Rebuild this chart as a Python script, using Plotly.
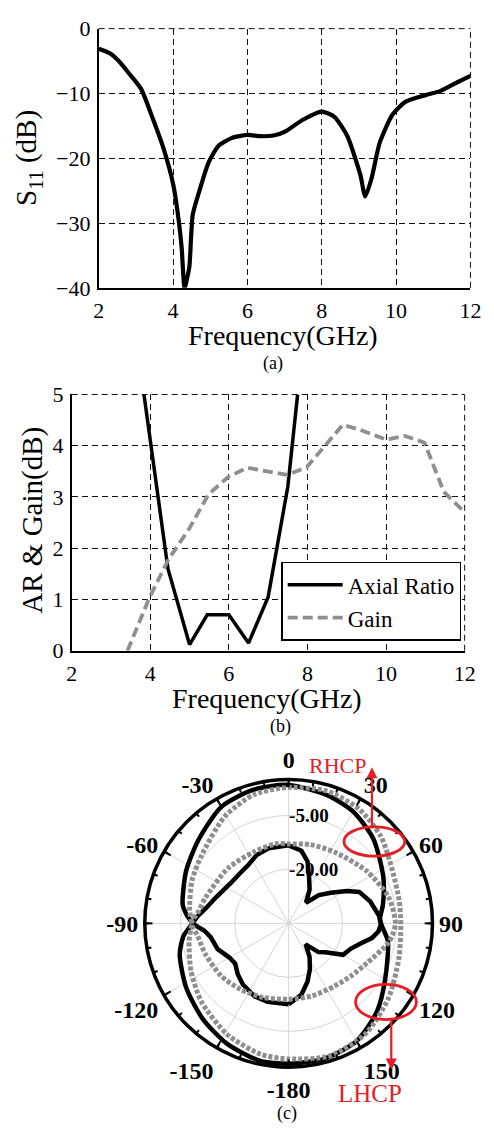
import plotly.graph_objects as go

# ---------------- (a) S11 ----------------
s11_freq = [2.0, 2.3, 2.54, 2.8, 3.14, 3.45, 3.75, 4.01, 4.15, 4.23, 4.31, 4.38, 4.44, 4.53, 4.70, 4.96,
            5.22, 5.57, 6.0, 6.35, 6.7, 7.04, 7.48, 8.0, 8.34, 8.69, 9.04, 9.17, 9.34, 9.56, 9.9,
            10.25, 10.77, 11.2, 11.64, 12.0]
s11_db = [-3.1, -3.8, -5.0, -6.8, -9.3, -13.8, -18.6, -24.2, -29.5, -33.7, -40.0, -38.5, -36.7, -28.7, -25.2, -20.6,
          -18.1, -16.9, -16.4, -16.6, -16.5, -15.8, -14.1, -12.8, -13.6, -16.6, -22.6, -25.9, -23.1, -17.6, -13.3,
          -11.3, -10.3, -9.6, -8.3, -7.3]

# ---------------- (b) AR & Gain ----------------
ar_freq = [3.84, 4.45, 5.0, 5.45, 6.0, 6.5, 7.0, 7.5, 7.75]
ar_db = [5.0, 1.6, 0.12, 0.7, 0.7, 0.15, 1.05, 3.2, 5.0]

gain_freq = [3.42, 3.97, 4.46, 4.99, 5.48, 5.98, 6.47, 7.0, 7.49, 7.98, 8.48, 8.9, 9.34, 10.0, 10.48, 10.98, 11.47, 12.0]
gain_db = [0.0, 1.02, 1.78, 2.38, 3.05, 3.39, 3.57, 3.49, 3.43, 3.58, 4.03, 4.41, 4.31, 4.12, 4.19, 4.06, 3.1, 2.7]

# ---------------- (c) radiation patterns (dB) ----------------
black_outer_theta = [-180, -168, -153, -138, -122, -106, -97, -90, -85, -80, -63, -47, -30, -15, 0, 17, 30, 45,
                     64, 79, 88, 100, 120, 135, 150, 165, 180]
black_outer_db = [4.0, 4.0, 2.6, 0.7, -1.4, -3.5, -5.5, -8.0, -6.5, -5.1, -3.0, -0.8, 2.4, 3.4, 3.5, 2.2, 0.9, -1.7,
                  -5.7, -8.3, -9.6, -7.0, -4.0, -0.3, 2.8, 3.9, 4.0]

black_inner_theta = [-180, -165, -155, -143, -135, -127, -120, -110, -100, -95, -90, -85, -80, -70, -55, -45, -35,
                     -25, -15, 0, 10, 17, 24, 32, 40, 47, 54, 61, 66, 75, 85, 90, 95, 100, 105, 112, 120, 128,
                     134, 141, 148, 155, 162, 170, 180]
black_inner_db = [-12.5, -12.4, -12.6, -13.8, -15.0, -16.4, -16.0, -14.0, -13.0, -11.5, -8.2, -9.8, -11.5, -13.6,
                  -15.4, -15.6, -15.3, -14.0, -13.4, -13.3, -14.5, -17.0, -21.0, -24.0, -27.5, -23.5, -20.5,
                  -16.5, -13.5, -11.5, -9.8, -9.3, -9.9, -11.5, -14.0, -16.3, -17.5, -22.0, -23.5, -27.5, -24.0,
                  -21.0, -18.0, -14.8, -12.5]

gray_outer_theta = [-180, -168, -151, -132, -116, -100, -90, -82, -66, -52, -31, -15, 0, 16, 32, 47, 62, 78, 91,
                    108, 127, 145, 163, 180]
gray_outer_db = [2.7, 2.2, 0.3, -2.4, -4.8, -6.9, -8.0, -7.2, -5.6, -4.3, -0.4, 2.1, 2.8, 3.3, 2.3, 0.2, -2.5,
                 -3.6, -3.8, -2.8, -0.3, 2.4, 3.6, 2.7]

gray_inner_theta = [-180, -161, -144, -128, -110, -98, -90, -82, -73, -48, -26, -9, 0, 15, 33, 56, 75, 90, 100,
                    117, 130, 144, 162, 180]
gray_inner_db = [-13.9, -13.2, -12.3, -11.2, -10.3, -9.5, -8.0, -9.8, -10.8, -12.2, -12.9, -12.6, -12.9, -12.3,
                 -11.4, -8.9, -6.3, -5.3, -6.5, -10.6, -12.3, -13.4, -13.8, -13.9]

ang_tickvals = [0, 30, 60, 90, 120, 150, 180, 210, 240, 270, 300, 330]
ang_ticktext = ['0', '30', '60', '90', '120', '150', '-180', '-150', '-120', '-90', '-60', '-30']

W, H = 494, 1146
SERIF = "Liberation Serif, Times New Roman, serif"
BLACK = "#000000"
GRAY = "#8f8f8f"
RED = "#e41e26"
GRID = "#111111"


def px(x):
    return x / W


def py(y):
    return 1 - y / H


fig = go.Figure()

fig.add_trace(go.Scatter(x=s11_freq, y=s11_db, mode="lines", line=dict(color=BLACK, width=4.2, shape="spline",
                                                                        smoothing=0.6),
                         xaxis="x", yaxis="y", showlegend=False))

fig.add_trace(go.Scatter(x=ar_freq, y=ar_db, mode="lines", name="Axial Ratio",
                         line=dict(color=BLACK, width=3.5), xaxis="x2", yaxis="y2"))
fig.add_trace(go.Scatter(x=gain_freq, y=gain_db, mode="lines", name="Gain",
                         line=dict(color=GRAY, width=3.8, dash="10px,5px"), xaxis="x2", yaxis="y2"))

fig.add_trace(go.Scatterpolar(r=black_outer_db, theta=black_outer_theta, mode="lines",
                              line=dict(color=BLACK, width=4.5, shape="spline", smoothing=0.7),
                              subplot="polar", showlegend=False))
fig.add_trace(go.Scatterpolar(r=black_inner_db, theta=black_inner_theta, mode="lines",
                              line=dict(color=BLACK, width=4.5),
                              subplot="polar", showlegend=False))
fig.add_trace(go.Scatterpolar(r=gray_outer_db, theta=gray_outer_theta, mode="lines",
                              line=dict(color=GRAY, width=5, dash="4px,2px", shape="spline", smoothing=0.7),
                              subplot="polar", showlegend=False))
fig.add_trace(go.Scatterpolar(r=gray_inner_db, theta=gray_inner_theta, mode="lines",
                              line=dict(color=GRAY, width=5, dash="4px,2px", shape="spline", smoothing=0.7),
                              subplot="polar", showlegend=False))
fig.add_trace(go.Scatterpolar(r=[], theta=[], subplot="polar2", showlegend=False))

tickfont = dict(family=SERIF, size=22, color=BLACK)
grid_common = dict(showgrid=True, gridcolor=GRID, gridwidth=1, griddash="6px,4px", zeroline=False,
                   showline=True, linecolor=BLACK, linewidth=1.6, mirror=False, ticks="", tickfont=tickfont,
                   ticklabelstandoff=2)

polar_domain = dict(x=[px(143.7), px(441.7)], y=[py(1080.7), py(782.7)])

fig.update_layout(
    width=W, height=H,
    margin=dict(l=0, r=0, t=0, b=0),
    paper_bgcolor="white", plot_bgcolor="white",
    font=dict(family=SERIF, color=BLACK),
    xaxis=dict(domain=[px(96), px(481)], range=[2, 12], dtick=2, anchor="y", **grid_common),
    yaxis=dict(domain=[py(282), py(17)], range=[-40, 0], dtick=10, anchor="x", **grid_common),
    xaxis2=dict(domain=[px(68), px(475)], range=[2, 12], dtick=2, anchor="y2", **grid_common),
    yaxis2=dict(domain=[py(653), py(391)], range=[0, 5], dtick=1, anchor="x2", **grid_common),
    legend=dict(x=px(285), y=py(562), xanchor="left", yanchor="top", bgcolor="white",
                bordercolor=BLACK, borderwidth=1.5, font=dict(family=SERIF, size=23, color=BLACK),
                itemwidth=55, tracegroupgap=0),
    polar=dict(
        domain=polar_domain, bgcolor="white",
        angularaxis=dict(rotation=90, direction="clockwise", tickvals=ang_tickvals, ticktext=ang_ticktext,
                         showline=True, linecolor=BLACK, linewidth=3.5, ticks="inside", ticklen=6,
                         tickwidth=2, tickcolor=BLACK, showgrid=True, gridcolor="#d6d6d6", gridwidth=1,
                         tickfont=dict(family=SERIF, size=24, color=BLACK, weight="bold")),
        radialaxis=dict(range=[-35, 5], tickvals=[-20, -5], ticktext=["-20.00", "-5.00"], angle=90,
                        tickangle=90, showline=False, ticks="", showgrid=True, gridcolor="#d6d6d6",
                        gridwidth=1, tickfont=dict(family=SERIF, size=19, color=BLACK, weight="bold")),
    ),
    polar2=dict(
        domain=polar_domain, bgcolor="rgba(0,0,0,0)",
        angularaxis=dict(rotation=90, direction="clockwise", tickvals=list(range(0, 360, 10)),
                         showticklabels=False, showline=False, ticks="inside", ticklen=4, tickwidth=1.5,
                         tickcolor=BLACK, showgrid=False),
        radialaxis=dict(visible=False, range=[-35, 5]),
    ),
)

ann = [
    dict(text="Frequency(GHz)", x=px(287), y=py(331), font=dict(size=28)),
    dict(text="S<sub>11</sub> (dB)", x=px(23), y=py(149), textangle=-90, font=dict(size=29)),
    dict(text="(a)", x=px(277), y=py(359), font=dict(size=18)),
    dict(text="Frequency(GHz)", x=px(270), y=py(702), font=dict(size=28)),
    dict(text="AR &amp; Gain(dB)", x=px(28), y=py(520), textangle=-90, font=dict(size=29)),
    dict(text="(b)", x=px(284), y=py(730), font=dict(size=18)),
    dict(text="(c)", x=px(291), y=py(1126), font=dict(size=18)),
    dict(text="RHCP", x=px(343), y=py(770), font=dict(size=22, color=RED)),
    dict(text="LHCP", x=px(377), y=py(1106), font=dict(size=25, color=RED)),
]
annotations = []
for a in ann:
    base = dict(xref="paper", yref="paper", showarrow=False, xanchor="center", yanchor="middle")
    f = dict(family=SERIF, color=BLACK)
    f.update(a.pop("font"))
    base.update(a)
    base["font"] = f
    annotations.append(base)

annotations.append(dict(xref="paper", yref="paper", x=px(379), y=py(772), ax=0, ay=61, text="",
                        showarrow=True, arrowhead=2, arrowsize=1, arrowwidth=2.2, arrowcolor=RED))
annotations.append(dict(xref="paper", yref="paper", x=px(399), y=py(1081), ax=0, ay=-51, text="",
                        showarrow=True, arrowhead=2, arrowsize=1, arrowwidth=2.2, arrowcolor=RED))
fig.update_layout(annotations=annotations)

# dashed top and right borders (MATLAB-style box drawn by grid)
for xr in ["x", "x2"]:
    yr = "y" if xr == "x" else "y2"
    fig.add_shape(type="line", xref=f"{xr} domain", yref=f"{yr} domain", x0=0, x1=1, y0=1, y1=1,
                  line=dict(color=GRID, width=1, dash="6px,4px"), layer="below")
    fig.add_shape(type="line", xref=f"{xr} domain", yref=f"{yr} domain", x0=1, x1=1, y0=0, y1=1,
                  line=dict(color=GRID, width=1, dash="6px,4px"), layer="below")

fig.add_shape(type="circle", xref="paper", yref="paper", x0=px(350), x1=px(413), y0=py(863), y1=py(833),
              line=dict(color=RED, width=2.8))
fig.add_shape(type="circle", xref="paper", yref="paper", x0=px(362), x1=px(425), y0=py(1030), y1=py(994),
              line=dict(color=RED, width=2.8))

fig.write_html("out.html")
